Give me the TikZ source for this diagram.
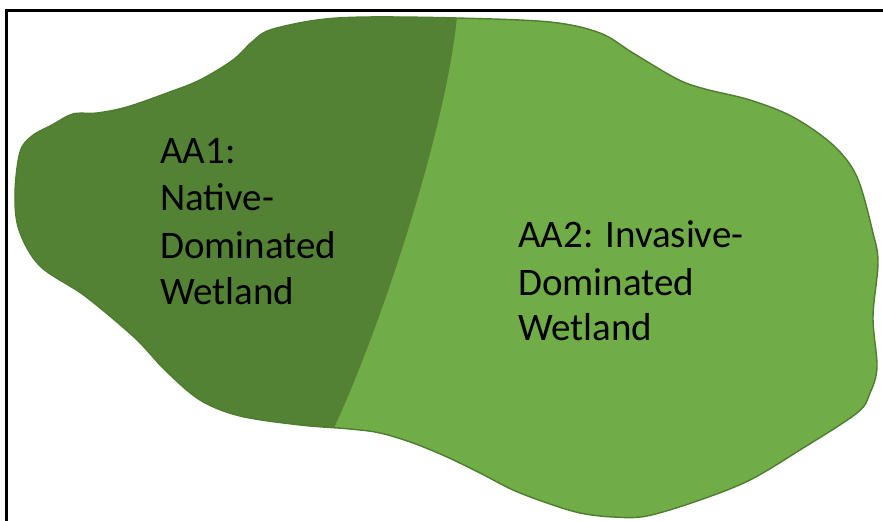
\documentclass[tikz,border=0pt]{standalone}
\usepackage{fontspec}
\setmainfont{Carlito}
\definecolor{darkgreen}{HTML}{548235}
\definecolor{lightgreen}{HTML}{70AD47}
\definecolor{edgegreen}{HTML}{4E7C30}
\tikzset{
  lbl/.style={anchor=base west, inner sep=0pt, text=black, font=\fontsize{39}{46}\selectfont},
  frameline/.style={draw=black, line width=2.6pt}
}
\begin{document}
\begin{tikzpicture}[x=1pt,y=-1pt]
\useasboundingbox (0,0) rectangle (883,521);
\def\blob{plot[smooth cycle, tension=0.55] coordinates {
(15,193) (20,152) (32,136) (52,125) (73,114) (97,113) (127,107) (167,93) (200,80) (233,60) (252,42) (270,30) (317,20) (367,17) (457,18) (550,22) (600,33) (633,53) (677,79) (705,89) (750,100) (793,117) (833,145) (857,177) (873,233) (878,263) (873,317) (877,367) (870,393) (857,413) (800,450) (750,480) (700,500) (647,516) (613,517) (580,513) (547,503) (513,490) (480,473) (447,457) (413,443) (380,433) (350,429) (300,425) (240,416) (200,400) (165,370) (135,338) (85,296) (40,266) (19,230)}}
% light region
\fill[lightgreen] \blob;
% dark region (left of divider)
\begin{scope}
  \clip \blob;
  \fill[darkgreen] (0,0) -- (458,0) -- (458,5) .. controls (450,120) and (380,330) .. (333,430) -- (320,521) -- (0,521) -- cycle;
\end{scope}
% outline
\draw[edgegreen, line width=1.4pt] \blob;
% frame
\coordinate (ftl) at (6.5,10.5);
\coordinate (ftr) at (883,10.5);
\coordinate (fbl) at (6.5,521);
\draw[frameline] (ftr) -- (ftl) -- (fbl);
% labels
\node[lbl] (a1) at (160,164) {AA1:};
\node[lbl] (a2) at (160,211) {Native-};
\node[lbl] (a3) at (160,259) {Dominated};
\node[lbl] (a4) at (160,305) {Wetland};
\node[lbl] (b1) at (518,248) {AA2: Invasive-};
\node[lbl] (b2) at (518,295) {Dominated};
\node[lbl] (b3) at (518,340) {Wetland};
\end{tikzpicture}
\end{document}
